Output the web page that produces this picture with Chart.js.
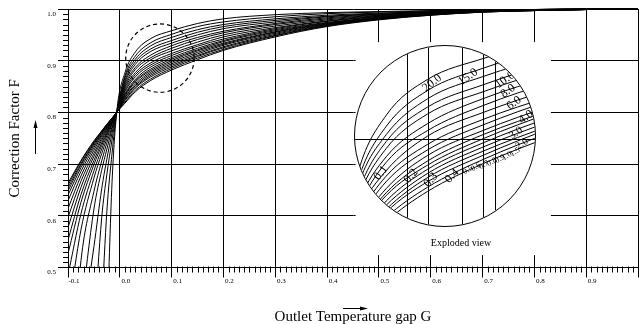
<!DOCTYPE html>
<html>
<head>
<meta charset="utf-8">
<script src="https://cdn.jsdelivr.net/npm/chart.js@4.4.0/dist/chart.umd.min.js"></script>
<style>
  html, body { margin: 0; padding: 0; background: #fff; }
  canvas { display: block; }
  #wrap { position: relative; width: 641px; height: 324px; }
  #lupe {
    position: absolute; left: 354px; top: 45px; width: 182px; height: 182px;
    box-sizing: border-box; border: 1px solid #000; border-radius: 50%;
    overflow: hidden; background: #fff;
  }
</style>
</head>
<body>
<div id="wrap">
  <canvas id="grafico" width="641" height="324"></canvas>
  <div id="lupe"><canvas id="lupeCanvas" width="180" height="180"></canvas></div>
</div>
<script>
// x values shared by every curve (outlet temperature gap G)
const G = [-0.1, -0.075, -0.05, -0.035, -0.025, -0.015, -0.006, 0.01, 0.03, 0.06, 0.1, 0.15, 0.2, 0.3, 0.4, 0.5, 0.6, 0.7, 0.8, 0.9, 1.0];

// correction factor F for each curve
const F_0_1 = [0.663, 0.707, 0.745, 0.764, 0.777, 0.789, 0.8, 0.818, 0.840, 0.862, 0.882, 0.902, 0.920, 0.946, 0.966, 0.979, 0.988, 0.994, 0.997, 0.999, 1.0];
const F_0_2 = [0.659, 0.705, 0.743, 0.764, 0.777, 0.789, 0.8, 0.820, 0.843, 0.865, 0.885, 0.905, 0.922, 0.948, 0.967, 0.980, 0.988, 0.994, 0.997, 0.999, 1.0];
const F_0_3 = [0.654, 0.701, 0.741, 0.762, 0.776, 0.789, 0.8, 0.823, 0.847, 0.869, 0.888, 0.908, 0.925, 0.949, 0.968, 0.980, 0.989, 0.994, 0.997, 0.999, 1.0];
const F_0_4 = [0.648, 0.698, 0.739, 0.761, 0.775, 0.788, 0.8, 0.825, 0.849, 0.872, 0.891, 0.910, 0.927, 0.951, 0.969, 0.981, 0.989, 0.995, 0.997, 0.999, 1.0];
const F_0_5 = [0.640, 0.693, 0.736, 0.759, 0.774, 0.788, 0.8, 0.828, 0.852, 0.875, 0.894, 0.913, 0.930, 0.953, 0.970, 0.982, 0.989, 0.995, 0.997, 0.999, 1.0];
const F_0_6 = [0.629, 0.686, 0.732, 0.757, 0.772, 0.787, 0.8, 0.829, 0.855, 0.878, 0.897, 0.916, 0.932, 0.955, 0.971, 0.982, 0.990, 0.995, 0.997, 0.999, 1.0];
const F_0_7 = [0.614, 0.677, 0.727, 0.754, 0.770, 0.786, 0.8, 0.832, 0.859, 0.881, 0.900, 0.919, 0.934, 0.956, 0.972, 0.983, 0.990, 0.995, 0.998, 0.999, 1.0];
const F_0_8 = [0.597, 0.667, 0.721, 0.750, 0.768, 0.785, 0.8, 0.834, 0.861, 0.884, 0.903, 0.921, 0.937, 0.958, 0.973, 0.983, 0.990, 0.995, 0.998, 0.999, 1.0];
const F_0_9 = [0.577, 0.655, 0.715, 0.746, 0.765, 0.784, 0.8, 0.836, 0.864, 0.888, 0.906, 0.924, 0.939, 0.960, 0.974, 0.984, 0.991, 0.995, 0.998, 0.999, 1.0];
const F_1_0 = [0.553, 0.641, 0.707, 0.741, 0.762, 0.783, 0.8, 0.840, 0.869, 0.892, 0.910, 0.928, 0.942, 0.962, 0.976, 0.985, 0.991, 0.996, 0.998, 0.999, 1.0];
const F_1_5 = [0.527, 0.626, 0.699, 0.736, 0.759, 0.781, 0.8, 0.843, 0.873, 0.896, 0.914, 0.931, 0.946, 0.964, 0.977, 0.986, 0.992, 0.996, 0.998, 0.999, 1.0];
const F_2 = [0.485, 0.604, 0.687, 0.729, 0.755, 0.779, 0.8, 0.847, 0.877, 0.902, 0.919, 0.936, 0.950, 0.967, 0.979, 0.987, 0.992, 0.996, 0.998, 0.999, 1.0];
const F_3 = [0.412, 0.573, 0.673, 0.720, 0.749, 0.777, 0.8, 0.850, 0.883, 0.906, 0.924, 0.941, 0.954, 0.970, 0.981, 0.988, 0.993, 0.996, 0.998, 1.0, 1.0];
const F_4 = [0.209, 0.513, 0.647, 0.706, 0.741, 0.772, 0.8, 0.854, 0.887, 0.911, 0.929, 0.945, 0.957, 0.972, 0.983, 0.989, 0.994, 0.997, 0.998, 1.0, 1.0];
const F_6 = [null, 0.412, 0.613, 0.688, 0.729, 0.768, 0.8, 0.858, 0.893, 0.918, 0.934, 0.950, 0.962, 0.975, 0.985, 0.990, 0.994, 0.997, 0.998, 1.0, 1.0];
const F_8 = [null, 0.369, 0.540, 0.652, 0.710, 0.760, 0.8, 0.862, 0.898, 0.923, 0.939, 0.955, 0.966, 0.978, 0.986, 0.991, 0.995, 0.997, 0.999, 1.0, 1.0];
const F_10 = [null, null, 0.381, 0.596, 0.680, 0.747, 0.8, 0.867, 0.903, 0.929, 0.945, 0.960, 0.970, 0.981, 0.988, 0.992, 0.995, 0.997, 0.999, 1.0, 1.0];
const F_15 = [null, null, null, 0.421, 0.609, 0.721, 0.8, 0.871, 0.909, 0.935, 0.951, 0.966, 0.975, 0.985, 0.991, 0.994, 0.996, 0.998, 0.999, 1.0, 1.0];
const F_20 = [null, null, null, null, 0.375, 0.665, 0.8, 0.877, 0.917, 0.943, 0.958, 0.972, 0.981, 0.989, 0.993, 0.995, 0.997, 0.998, 0.999, 1.0, 1.0];

const CURVES = [F_0_1, F_0_2, F_0_3, F_0_4, F_0_5, F_0_6, F_0_7, F_0_8, F_0_9, F_1_0, F_1_5, F_2, F_3, F_4, F_6, F_8, F_10, F_15, F_20];
const R_LABELS = ['0.1', '0.2', '0.3', '0.4', '0.5', '0.6', '0.7', '0.8', '0.9', '1.0', '1.5', '2.0', '3.0', '4.0', '6.0', '8.0', '10.0', '15.0', '20.0'];

// axes
const X_TICKS = [-0.1, 0, 0.1, 0.2, 0.3, 0.4, 0.5, 0.6, 0.7, 0.8, 0.9, 1.0];
const X_TICK_LABELS = ['-0.1', '0.0', '0.1', '0.2', '0.3', '0.4', '0.5', '0.6', '0.7', '0.8', '0.9', '1'];
const Y_TICKS = [0.5, 0.6, 0.7, 0.8, 0.9, 1.0];
const Y_TICK_LABELS = ['0.5', '0.6', '0.7', '0.8', '0.9', '1.0'];

// region of the main grid hidden behind the exploded view, and the dashed lens
const GAP_X = [0.455, 0.832];
const GAP_Y = [0.524, 0.936];
const LENS_CENTER = [0.0774, 0.905];
const LENS_RADIUS = 0.066;

// exploded view window and its own grid
const INSET_X = [0.0074, 0.1376];
const INSET_Y = [0.8369, 0.9671];
const INSET_GRID_X = [0.045, 0.06, 0.085, 0.1, 0.109];
const INSET_GRID_Y = [0.9];
const INSET_LABEL_POS = [[26, 127], [56, 130], [76, 134], [97, 130], [113, 124], [121, 121], [129, 119], [137, 116], [145, 113], [152, 110], [160, 106], [167, 98], [161, 87], [171, 71], [159, 57], [153, 45], [150, 34], [113, 31], [77, 37]];
const INSET_LABEL_ANGLE = [-52, -50, -48, -45, -32, -32, -32, -32, -32, -32, -32, -32, -35, -35, -35, -35, -35, -35, -38];
const INSET_LABEL_SIZE = [12, 12, 12, 12, 8, 8, 8, 8, 8, 8, 8, 10, 11, 12, 12, 12, 12, 12, 12];

const SERIF = '"Liberation Serif", "DejaVu Serif", serif';
Chart.defaults.font.family = SERIF;
Chart.defaults.color = '#000';

const makeSets = () => CURVES.map((f, i) => ({
    label: 'R = ' + R_LABELS[i],
    data: G.map((g, j) => ({ x: g, y: f[j] })),
    borderColor: '#000',
    borderWidth: 1,
    pointRadius: 0,
    fill: false,
    cubicInterpolationMode: 'monotone',
    capBezierPoints: false
}));

const drawArrow = (ctx, x0, y0, x1, y1) => {
    const ang = Math.atan2(y1 - y0, x1 - x0);
    ctx.beginPath();
    ctx.moveTo(x0, y0);
    ctx.lineTo(x1 - 6 * Math.cos(ang), y1 - 6 * Math.sin(ang));
    ctx.stroke();
    ctx.beginPath();
    ctx.moveTo(x1, y1);
    ctx.lineTo(x1 - 8 * Math.cos(ang) + 2 * Math.sin(ang), y1 - 8 * Math.sin(ang) - 2 * Math.cos(ang));
    ctx.lineTo(x1 - 8 * Math.cos(ang) - 2 * Math.sin(ang), y1 - 8 * Math.sin(ang) + 2 * Math.cos(ang));
    ctx.closePath();
    ctx.fill();
};

const extras = {
    id: 'extras',
    beforeDatasetsDraw(chart) {
        const { ctx, scales: { x, y } } = chart;
        const x0 = x.getPixelForValue(GAP_X[0]), x1 = x.getPixelForValue(GAP_X[1]);
        const y0 = y.getPixelForValue(GAP_Y[1]), y1 = y.getPixelForValue(GAP_Y[0]);
        ctx.save();
        ctx.fillStyle = '#fff';
        ctx.fillRect(x0, y0, x1 - x0, y1 - y0);
        ctx.restore();
    },
    afterDatasetsDraw(chart) {
        const { ctx, scales: { x, y } } = chart;
        const cx = x.getPixelForValue(LENS_CENTER[0]);
        const cy = y.getPixelForValue(LENS_CENTER[1]);
        const r = x.getPixelForValue(LENS_CENTER[0] + LENS_RADIUS) - cx;
        ctx.save();
        ctx.strokeStyle = '#000';
        ctx.lineWidth = 1.2;
        ctx.setLineDash([4, 3]);
        ctx.beginPath();
        ctx.arc(cx, cy, r, 0, Math.PI * 2);
        ctx.stroke();
        ctx.restore();
    },
    afterDraw(chart) {
        const { ctx, chartArea: a, scales: { x, y } } = chart;
        ctx.save();
        ctx.strokeStyle = '#000';
        ctx.fillStyle = '#000';
        ctx.lineWidth = 1;
        // minor ticks every 0.01
        ctx.beginPath();
        for (let k = 50; k <= 100; k++) {
            if (k % 10 === 0) continue;
            const py = Math.round(y.getPixelForValue(k / 100)) + 0.5;
            ctx.moveTo(a.left - 5, py);
            ctx.lineTo(a.left, py);
        }
        for (let k = -10; k <= 100; k++) {
            if (k % 10 === 0) continue;
            const px = Math.round(x.getPixelForValue(k / 100)) + 0.5;
            ctx.moveTo(px, a.bottom - 1);
            ctx.lineTo(px, a.bottom + 5);
        }
        ctx.stroke();
        // direction arrows next to the axis titles
        drawArrow(ctx, 35.5, 154, 35.5, 120);
        drawArrow(ctx, 343, 308.5, 368, 308.5);
        ctx.font = '10px ' + SERIF;
        ctx.textAlign = 'center';
        ctx.textBaseline = 'middle';
        ctx.fillText('Exploded view', 461, 243);
        ctx.restore();
    }
};

const grafico = new Chart(document.getElementById('grafico'), {
    type: 'line',
    data: { datasets: makeSets().map(d => ({ ...d, clip: { left: 0, top: 1, right: 0, bottom: 0 } })) },
    options: {
        responsive: false,
        animation: false,
        events: [],
        layout: { padding: { top: 9, right: 3, left: 0, bottom: 0 } },
        plugins: { legend: { display: false }, tooltip: { enabled: false } },
        scales: {
            x: {
                type: 'linear',
                min: -0.1,
                max: 1.0,
                afterBuildTicks: s => { s.ticks = X_TICKS.map(v => ({ value: v })); },
                afterFit: s => { s.height = 56.5; },
                ticks: {
                    autoSkip: false, maxRotation: 0, padding: -1, labelOffset: 6,
                    font: { size: 7 }, color: '#000',
                    callback: (v, i) => X_TICK_LABELS[i]
                },
                grid: { color: '#000', lineWidth: 1, tickLength: 10 },
                border: { color: '#000', width: 1 },
                title: {
                    display: true, text: 'Outlet Temperature gap G', color: '#000',
                    font: { size: 15 }, padding: { top: 0, bottom: -2 }
                }
            },
            y: {
                type: 'linear',
                min: 0.5,
                max: 1.0,
                afterBuildTicks: s => { s.ticks = Y_TICKS.map(v => ({ value: v })); },
                afterFit: s => { s.width = 68; },
                ticks: {
                    autoSkip: false, padding: 2, labelOffset: 5,
                    font: { size: 7 }, color: '#000',
                    callback: (v, i) => Y_TICK_LABELS[i]
                },
                grid: { color: '#000', lineWidth: 1, tickLength: 10 },
                border: { color: '#000', width: 1 },
                title: {
                    display: true, text: 'Correction Factor F', color: '#000',
                    font: { size: 15 }, padding: { top: 6, bottom: 0 }
                }
            }
        }
    },
    plugins: [extras]
});

const lupeExtras = {
    id: 'lupeExtras',
    beforeDatasetsDraw(chart) {
        const { ctx, chartArea: a, scales: { x, y } } = chart;
        ctx.save();
        ctx.strokeStyle = '#000';
        ctx.lineWidth = 1;
        ctx.beginPath();
        INSET_GRID_X.forEach(v => {
            const px = Math.round(x.getPixelForValue(v)) + 0.5;
            ctx.moveTo(px, a.top);
            ctx.lineTo(px, a.bottom);
        });
        INSET_GRID_Y.forEach(v => {
            const py = Math.round(y.getPixelForValue(v)) + 0.5;
            ctx.moveTo(a.left, py);
            ctx.lineTo(a.right, py);
        });
        ctx.stroke();
        ctx.restore();
    },
    afterDatasetsDraw(chart) {
        const { ctx } = chart;
        ctx.save();
        ctx.fillStyle = '#000';
        ctx.textAlign = 'center';
        ctx.textBaseline = 'middle';
        R_LABELS.forEach((t, i) => {
            const [px, py] = INSET_LABEL_POS[i];
            ctx.save();
            ctx.translate(px, py);
            ctx.rotate(INSET_LABEL_ANGLE[i] * Math.PI / 180);
            ctx.font = INSET_LABEL_SIZE[i] + 'px ' + SERIF;
            ctx.fillText(t, 0, 0);
            ctx.restore();
        });
        ctx.restore();
    }
};

const lupe = new Chart(document.getElementById('lupeCanvas'), {
    type: 'line',
    data: { datasets: makeSets() },
    options: {
        responsive: false,
        animation: false,
        events: [],
        layout: { padding: 0 },
        plugins: { legend: { display: false }, tooltip: { enabled: false } },
        scales: {
            x: { type: 'linear', display: false, min: INSET_X[0], max: INSET_X[1] },
            y: { type: 'linear', display: false, min: INSET_Y[0], max: INSET_Y[1] }
        }
    },
    plugins: [lupeExtras]
});
</script>
</body>
</html>
